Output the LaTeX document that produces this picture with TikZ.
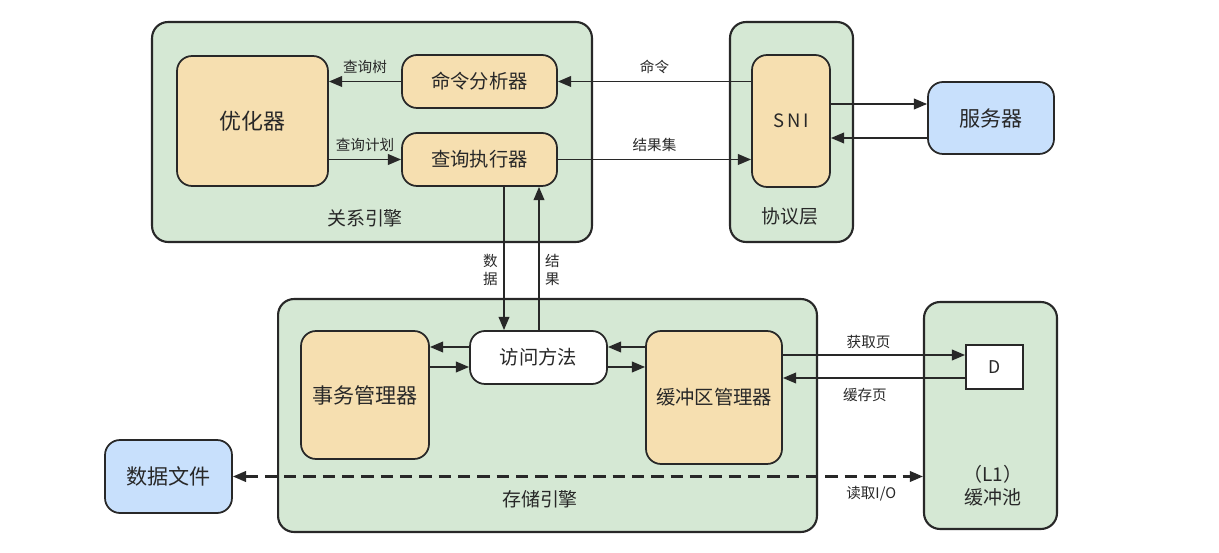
\documentclass[tikz,border=0pt]{standalone}
\usepackage{fontspec}
\setmainfont{Noto Sans CJK SC}
\usetikzlibrary{arrows.meta,positioning}

\definecolor{grp}{RGB}{213,232,212}
\definecolor{tan}{RGB}{246,223,176}
\definecolor{sky}{RGB}{200,224,252}
\definecolor{ink}{RGB}{40,40,40}

\tikzset{
  grpbox/.style = {draw = ink, line width = 1.2pt, fill = grp, rounded corners = 0.32cm},
  unit/.style = {draw = ink, line width = 1pt, fill = tan, rounded corners = 0.3cm, text = ink, font = \fontsize{11}{13}\selectfont},
  ext/.style = {draw = ink, line width = 1pt, fill = sky, rounded corners = 0.3cm, text = ink, font = \fontsize{12}{14}\selectfont},
  grplabel/.style = {text = ink, font = \fontsize{10.8}{13}\selectfont},
  edgelabel/.style = {text = ink, font = \fontsize{8.3}{10}\selectfont, inner sep = 1pt},
  arr/.style = {draw = ink, line width = 1.1pt, -{Triangle[length = 7.5pt, width = 6pt]}},
}

\begin{document}
\begin{tikzpicture}[x = 0.02cm, y = -0.02cm]
\useasboundingbox (0,0) rectangle (1219,553);

% containers
\node[grpbox, minimum width = 8.8cm, minimum height = 4.4cm] (rel) at (372,132) {};
\node[grpbox, minimum width = 2.46cm, minimum height = 4.4cm] (proto) at (791.5,132) {};
\node[grpbox, minimum width = 10.78cm, minimum height = 4.66cm] (store) at (547.5,415.5) {};
\node[grpbox, minimum width = 2.66cm, minimum height = 4.54cm] (pool) at (990.5,415.5) {};

\node[grplabel] (rellbl) at (365,218) {关系引擎};
\node[grplabel] (protolbl) at (790,216) {协议层};
\node[grplabel] (storelbl) at (540,499) {存储引擎};
\node[grplabel, align = center] (poollbl) at (993,486) {（L1）\\缓冲池};

% relational engine
\node[unit, font = \fontsize{12.5}{14}\selectfont, minimum width = 3.02cm, minimum height = 2.6cm] (opt) at (252.5,121) {优化器};
\node[unit, minimum width = 3.1cm, minimum height = 1.06cm] (cmd) at (479.5,81.5) {命令分析器};
\node[unit, minimum width = 3.1cm, minimum height = 1.06cm] (exec) at (479.5,159.5) {查询执行器};

% protocol layer and server
\node[unit, font = \fontsize{10.5}{12}\selectfont, minimum width = 1.56cm, minimum height = 2.64cm] (sni) at (791,121) {S\,N\,I};
\node[ext, minimum width = 2.52cm, minimum height = 1.44cm] (srv) at (991,118) {服务器};

% storage engine
\node[unit, font = \fontsize{12}{14}\selectfont, minimum width = 2.56cm, minimum height = 2.56cm] (txn) at (365,395) {事务管理器};
\node[unit, fill = white, minimum width = 2.74cm, minimum height = 1.06cm] (acc) at (538.5,357.5) {访问方法};
\node[unit, minimum width = 2.72cm, minimum height = 2.66cm] (bufmgr) at (714,397.5) {缓冲区管理器};

% buffer pool page and data file
\node[draw = ink, line width = 1pt, fill = white, text = ink, font = \fontsize{10}{12}\selectfont, minimum width = 1.14cm, minimum height = 0.88cm] (page) at (994.5,367) {D};
\node[ext, minimum width = 2.54cm, minimum height = 1.46cm] (file) at (168.5,476.5) {数据文件};

% relational engine flows
\draw[arr] (cmd.west) -- (opt.east |- cmd.west) node[edgelabel, midway, above = 3pt] (treelbl) {查询树};
\draw[arr] (opt.east |- exec.west) -- (exec.west) node[edgelabel, midway, above = 3pt] (planlbl) {查询计划};
\draw[arr] (sni.west |- cmd.east) -- (cmd.east) node[edgelabel, midway, above = 3pt] (cmdlbl) {命令};
\draw[arr] (exec.east) -- (sni.west |- exec.east) node[edgelabel, midway, above = 3pt] (reslbl) {结果集};

% SNI <-> server
\coordinate (s1) at ([yshift = 0.34cm]sni.east);
\coordinate (s2) at ([yshift = -0.34cm]sni.east);
\draw[arr] (s1) -- (srv.west |- s1);
\draw[arr] (srv.west |- s2) -- (s2);

% executor <-> access method
\coordinate (dx) at (504,0);
\coordinate (rx) at (539,0);
\draw[arr] (exec.south -| dx) -- (acc.north -| dx) node[edgelabel, pos = 0.58, left = 2pt, align = center] (datalbl) {数\\据};
\draw[arr] (acc.north -| rx) -- (exec.south -| rx) node[edgelabel, pos = 0.42, right = 2pt, align = center] (resultlbl) {结\\果};

% access method <-> managers
\coordinate (a1) at (0,347);
\coordinate (a2) at (0,367);
\draw[arr] (acc.west |- a1) -- (txn.east |- a1);
\draw[arr] (txn.east |- a2) -- (acc.west |- a2);
\draw[arr] (bufmgr.west |- a1) -- (acc.east |- a1);
\draw[arr] (acc.east |- a2) -- (bufmgr.west |- a2);

% buffer manager <-> page
\coordinate (p1) at (0,355);
\coordinate (p2) at (0,378);
\draw[arr] (bufmgr.east |- p1) -- (page.west |- p1) node[edgelabel, pos = 0.47, above = 2pt] (getlbl) {获取页};
\draw[arr] (page.west |- p2) -- (bufmgr.east |- p2) node[edgelabel, pos = 0.55, below = 4pt] (cachelbl) {缓存页};

% disk I/O
\draw[arr, {Triangle[length = 7.5pt, width = 6pt]}-{Triangle[length = 7.5pt, width = 6pt]}, dash pattern = on 7pt off 4pt, line width = 1.3pt] (file.east) -- (pool.west |- file.east) node[edgelabel, pos = 0.925, below = 4pt] (iolbl) {读取I/O};
\end{tikzpicture}
\end{document}
